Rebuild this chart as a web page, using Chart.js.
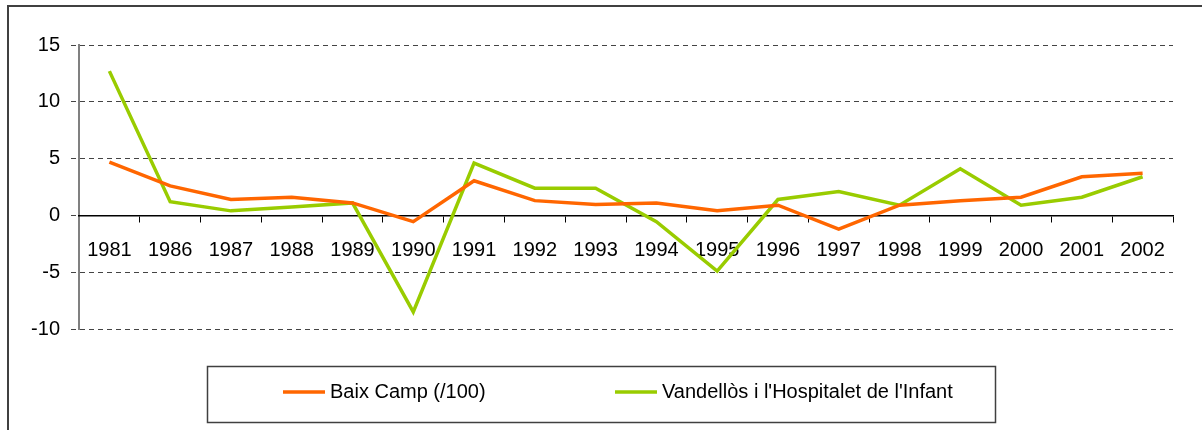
<!DOCTYPE html>
<html><head><meta charset="utf-8">
<script src="https://cdn.jsdelivr.net/npm/chart.js@4"></script>
<style>html,body{margin:0;padding:0;background:#fff}#wrap{width:1202px;height:430px;position:relative}</style>
</head><body><div id="wrap"><canvas id="c" width="1202" height="430"></canvas></div>
<script>
const categories = ['1981','1986','1987','1988','1989','1990','1991','1992','1993','1994','1995','1996','1997','1998','1999','2000','2001','2002'];
const baixCamp = [4.7, 2.6, 1.4, 1.6, 1.1, -0.55, 3.05, 1.3, 0.95, 1.1, 0.4, 0.9, -1.2, 0.9, 1.3, 1.6, 3.4, 3.7];
const vandellos = [12.7, 1.2, 0.4, 0.75, 1.1, -8.5, 4.6, 2.4, 2.4, -0.55, -4.9, 1.4, 2.1, 0.9, 4.1, 0.9, 1.6, 3.4];
const seriesNames = ['Baix Camp (/100)', "Vandellòs i l'Hospitalet de l'Infant"];
const seriesColors = ['#FF6600', '#99CC00'];
const yMin = -10, yMax = 15, yStep = 5;

const FONT = "'Liberation Sans Narrow', 'Arial Narrow', sans-serif";

const frameAndLegend = {
  id: 'frameAndLegend',
  afterDraw(chart) {
    const ctx = chart.ctx;
    ctx.save();
    // outer frame
    ctx.strokeStyle = '#404040';
    ctx.lineWidth = 2;
    ctx.beginPath();
    ctx.moveTo(8, 430); ctx.lineTo(8, 6); ctx.lineTo(1202, 6);
    ctx.stroke();
    // legend box
    ctx.lineWidth = 1.5;
    ctx.strokeStyle = '#404040';
    ctx.strokeRect(207.5, 366.5, 788, 56);
    const items = [{x: 283}, {x: 615}];
    ctx.font = "20px " + FONT;
    ctx.textBaseline = 'middle';
    ctx.textAlign = 'left';
    chart.data.datasets.forEach((ds, i) => {
      const x = items[i].x, y = 392;
      ctx.strokeStyle = ds.borderColor;
      ctx.lineWidth = 3.5;
      ctx.beginPath(); ctx.moveTo(x, y); ctx.lineTo(x + 42, y); ctx.stroke();
      ctx.fillStyle = '#000';
      ctx.fillText(ds.label, x + 47, y);
    });
    ctx.restore();
  }
};

new Chart(document.getElementById('c'), {
  type: 'line',
  data: {
    labels: categories,
    datasets: [
      { label: seriesNames[0], data: baixCamp, borderColor: seriesColors[0], backgroundColor: seriesColors[0], borderWidth: 3.5, pointRadius: 0, tension: 0 },
      { label: seriesNames[1], data: vandellos, borderColor: seriesColors[1], backgroundColor: seriesColors[1], borderWidth: 3.5, pointRadius: 0, tension: 0 }
    ]
  },
  options: {
    responsive: false,
    animation: false,
    devicePixelRatio: 1,
    layout: { padding: { left: 0, top: 45, right: 29, bottom: 101 } },
    plugins: { legend: { display: false }, tooltip: { enabled: false } },
    scales: {
      y: {
        min: yMin, max: yMax,
        afterFit(scale) { scale.width = 79; },
        ticks: { stepSize: yStep, color: '#000', font: { family: FONT, size: 20 }, padding: 11 },
        grid: { color: '#444', lineWidth: 1, tickLength: 8, tickColor: '#444', tickBorderDash: [5, 4] },
        border: { display: true, color: '#808080', width: 2, dash: [5, 4] }
      },
      x: {
        position: { y: 0 },
        offset: true,
        grid: { drawOnChartArea: false, offset: true, tickLength: 6, color: '#000', lineWidth: 1 },
        border: { display: true, color: '#000', width: 1.5 },
        ticks: { color: '#000', font: { family: FONT, size: 20 }, padding: 17, maxRotation: 0, autoSkip: false }
      }
    }
  },
  plugins: [frameAndLegend]
});
</script>
</body></html>
